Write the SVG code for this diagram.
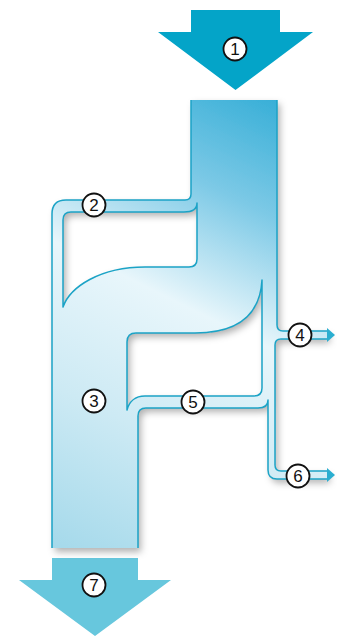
<svg xmlns="http://www.w3.org/2000/svg" width="337" height="636" viewBox="0 0 337 636">
  <style>
    .edge { fill: none; stroke: #1ba3c6; stroke-width: 1.5; stroke-linejoin: round; }
    .badge circle { fill: #ffffff; stroke: #111111; stroke-width: 1.8; }
    .badge text { font-family: "Liberation Sans", Arial, sans-serif; font-size: 17px; fill: #111111; text-anchor: middle; }
    .tip { fill: #2aaed0; }
  </style>
  <defs>
    <linearGradient id="flowGrad" gradientUnits="userSpaceOnUse" x1="285" y1="95" x2="55" y2="560">
      <stop offset="0" stop-color="#33add6"/>
      <stop offset="0.22" stop-color="#7cc9e6"/>
      <stop offset="0.45" stop-color="#e8f6fb"/>
      <stop offset="0.7" stop-color="#cdeaf4"/>
      <stop offset="1" stop-color="#a2d8ea"/>
    </linearGradient>
    <filter id="shadow" x="-20%" y="-10%" width="140%" height="125%">
      <feDropShadow dx="3" dy="4" stdDeviation="3.5" flood-color="#000000" flood-opacity="0.3"/>
    </filter>
  </defs>

  <!-- input arrow 1 -->
  <g id="node-in">
    <polygon points="191,10 280,10 280,32 313,32 235.5,90 158,32 191,32" fill="#04a4c8"/>
  </g>

  <!-- output arrow 7 -->
  <g id="node-out">
    <polygon points="52,558 138,558 138,580 171,580 95,636 19,580 52,580" fill="#67c7dd"/>
  </g>

  <!-- flows -->
  <g id="connectors">
    <path id="flow-body" fill="url(#flowGrad)" fill-rule="evenodd" filter="url(#shadow)"
      d="M191,100 H277 V325 Q277,331 283,331 H327 V339 H281 Q275,339 275,345 V465 Q275,471 281,471 H327 V479 H277 Q268,479 268,470 V400 C268,405 265,408 258,408 H146 Q138,408 138,416 V548 H52 V214 Q52,200 66,200 H185 Q191,200 191,194 Z
         M197,203 V259 Q197,267 189,267 H145 C100,267 70,287 63,307 V220 Q63,212 71,212 H184 C192,212 197,209 197,203 Z
         M262,280 V388 Q262,396 254,396 H145 C135,396 129,402 127,410 V342 Q127,333 136,333 H195 C238,333 260,315 262,280 Z"/>
    <path class="edge" d="M277,100 V325 Q277,331 283,331 H327
      M327,339 H281 Q275,339 275,345 V465 Q275,471 281,471 H327
      M327,479 H277 Q268,479 268,470 V400 C268,405 265,408 258,408 H146 Q138,408 138,416 V548
      M52,548 V214 Q52,200 66,200 H185 Q191,200 191,194 V100"/>
    <path class="edge" d="M197,203 V259 Q197,267 189,267 H145 C100,267 70,287 63,307 V220 Q63,212 71,212 H184 C192,212 197,209 197,203 Z"/>
    <path class="edge" d="M262,280 V388 Q262,396 254,396 H145 C135,396 129,402 127,410 V342 Q127,333 136,333 H195 C238,333 260,315 262,280 Z"/>
    <polygon class="tip" points="327,328 335,335 327,342"/>
    <polygon class="tip" points="327,468 335,475 327,482"/>
  </g>

  <!-- labels -->
  <g id="label-1" class="badge"><circle cx="235" cy="49" r="11.5"/><text x="235" y="55">1</text></g>
  <g id="label-2" class="badge"><circle cx="94" cy="205" r="11.5"/><text x="94" y="211">2</text></g>
  <g id="label-3" class="badge"><circle cx="94" cy="401" r="11.5"/><text x="94" y="407">3</text></g>
  <g id="label-4" class="badge"><circle cx="300" cy="335" r="11.5"/><text x="300" y="341">4</text></g>
  <g id="label-5" class="badge"><circle cx="193" cy="402" r="11.5"/><text x="193" y="408">5</text></g>
  <g id="label-6" class="badge"><circle cx="298" cy="476" r="11.5"/><text x="298" y="482">6</text></g>
  <g id="label-7" class="badge"><circle cx="94" cy="585" r="11.5"/><text x="94" y="591">7</text></g>
</svg>
